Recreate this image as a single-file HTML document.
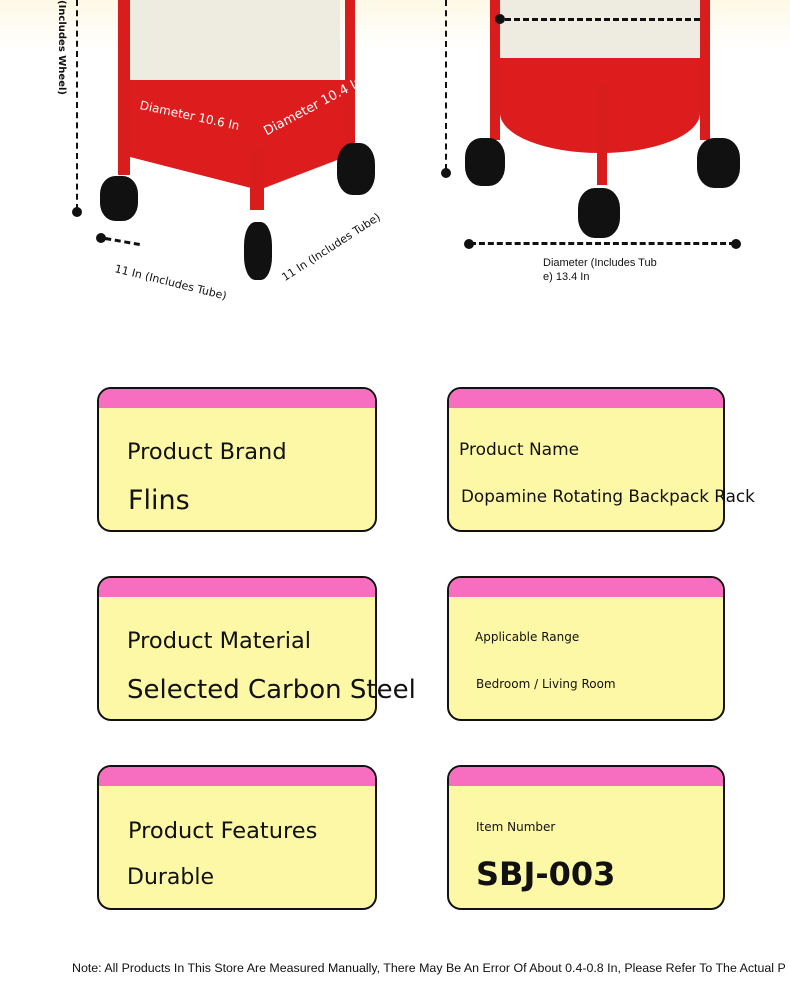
<!DOCTYPE html>
<html><head><meta charset="utf-8"><style>
body{margin:0;width:790px;height:1000px;background:#fff;position:relative;overflow:hidden;font-family:"DejaVu Sans","Liberation Sans",sans-serif;}
.a{position:absolute;}
.card{position:absolute;width:276px;height:141px;border:2px solid #111;border-radius:14px;background:#fdf8a6;overflow:hidden;}
.card .h{position:absolute;left:0;top:0;right:0;height:19px;background:#f76ec0;}
.t{position:absolute;white-space:nowrap;color:#111;}
.d{position:absolute;border-top:3px dashed #111;}
.dot{position:absolute;width:10px;height:10px;border-radius:50%;background:#111;}
.wh{position:absolute;background:#111;border-radius:40%;}
</style></head><body>
<div class="a" style="left:0;top:0;width:790px;height:50px;background:linear-gradient(#fdf9e6,#fff)"></div>
<!-- left rack -->
<div class="a" style="left:118px;top:0;width:12px;height:175px;background:#d91c1c"></div>
<div class="a" style="left:130px;top:0;width:210px;height:80px;background:#eeebe0"></div>
<div class="a" style="left:130px;top:80px;width:215px;height:110px;background:#dd1d1d;clip-path:polygon(0 0,100% 0,100% 70%,60% 100%,0 70%)"></div>
<div class="a" style="left:345px;top:0;width:10px;height:150px;background:#d91c1c"></div>
<div class="a" style="left:250px;top:150px;width:14px;height:60px;background:#d91c1c"></div>
<div class="wh" style="left:100px;top:176px;width:38px;height:45px"></div>
<div class="wh" style="left:337px;top:143px;width:38px;height:52px"></div>
<div class="wh" style="left:244px;top:222px;width:28px;height:58px"></div>
<div class="t" style="left:140px;top:98px;font-size:12px;color:#fff;transform:rotate(12deg);transform-origin:left">Diameter 10.6 In</div>
<div class="t" style="left:265px;top:125px;font-size:13px;color:#fff;transform:rotate(-28deg);transform-origin:left">Diameter 10.4 In</div>
<div class="a" style="left:76px;top:0;height:210px;border-left:2px dashed #111"></div>
<div class="dot" style="left:72px;top:207px"></div>
<div class="t" style="left:56px;top:0;font-size:10px;font-weight:bold;writing-mode:vertical-rl">(Includes Wheel)</div>
<div class="dot" style="left:96px;top:233px"></div>
<div class="d" style="left:105px;top:240px;width:35px;transform:rotate(10deg)"></div>
<div class="t" style="left:115px;top:262px;font-size:11px;transform:rotate(14deg);transform-origin:left">11 In (Includes Tube)</div>
<div class="t" style="left:283px;top:272px;font-size:11px;transform:rotate(-33deg);transform-origin:left">11 In (Includes Tube)</div>
<!-- right rack -->
<div class="a" style="left:500px;top:0;width:200px;height:62px;background:#eeebe0"></div>
<div class="a" style="left:500px;top:58px;width:200px;height:95px;background:#dd1d1d;border-radius:0 0 100px 100px/0 0 40px 40px"></div>
<div class="a" style="left:490px;top:0;width:10px;height:140px;background:#d91c1c"></div>
<div class="a" style="left:700px;top:0;width:10px;height:140px;background:#d91c1c"></div>
<div class="a" style="left:597px;top:85px;width:10px;height:100px;background:#d91c1c"></div>
<div class="wh" style="left:465px;top:138px;width:40px;height:48px"></div>
<div class="wh" style="left:697px;top:138px;width:43px;height:50px"></div>
<div class="wh" style="left:578px;top:188px;width:42px;height:50px"></div>
<div class="dot" style="left:495px;top:14px"></div>
<div class="d" style="left:505px;top:18px;width:195px"></div>
<div class="a" style="left:445px;top:0;height:170px;border-left:2px dashed #111"></div>
<div class="dot" style="left:441px;top:168px"></div>
<div class="dot" style="left:464px;top:239px"></div>
<div class="dot" style="left:731px;top:239px"></div>
<div class="d" style="left:470px;top:242px;width:265px"></div>
<div class="t" style="left:543px;top:256px;font-size:11px;line-height:14px;font-family:'Liberation Sans',sans-serif">Diameter (Includes Tub<br>e) 13.4 In</div>
<!-- cards -->
<div class="card" style="left:97px;top:387px"><div class="h"></div></div>
<div class="t" style="left:127px;top:439px;font-size:22.5px">Product Brand</div>
<div class="t" style="left:128px;top:485px;font-size:27px">Flins</div>
<div class="card" style="left:447px;top:387px;width:274px"><div class="h"></div></div>
<div class="t" style="left:459px;top:440px;font-size:17px">Product Name</div>
<div class="t" style="left:461px;top:486px;font-size:16.8px">Dopamine Rotating Backpack Rack</div>
<div class="card" style="left:97px;top:576px"><div class="h"></div></div>
<div class="t" style="left:127px;top:628px;font-size:22.5px">Product Material</div>
<div class="t" style="left:127px;top:675px;font-size:26px">Selected Carbon Steel</div>
<div class="card" style="left:447px;top:576px;width:274px"><div class="h"></div></div>
<div class="t" style="left:475px;top:630px;font-size:12px">Applicable Range</div>
<div class="t" style="left:476px;top:677px;font-size:12px">Bedroom / Living Room</div>
<div class="card" style="left:97px;top:765px"><div class="h"></div></div>
<div class="t" style="left:128px;top:818px;font-size:22.5px">Product Features</div>
<div class="t" style="left:127px;top:865px;font-size:22px">Durable</div>
<div class="card" style="left:447px;top:765px;width:274px"><div class="h"></div></div>
<div class="t" style="left:476px;top:820px;font-size:12px">Item Number</div>
<div class="t" style="left:476px;top:855px;font-size:32px;font-weight:bold">SBJ-003</div>
<div class="t" style="left:72px;top:961px;font-size:12.4px;font-family:'Liberation Sans',sans-serif">Note: All Products In This Store Are Measured Manually, There May Be An Error Of About 0.4-0.8 In, Please Refer To The Actual P</div>
</body></html>
